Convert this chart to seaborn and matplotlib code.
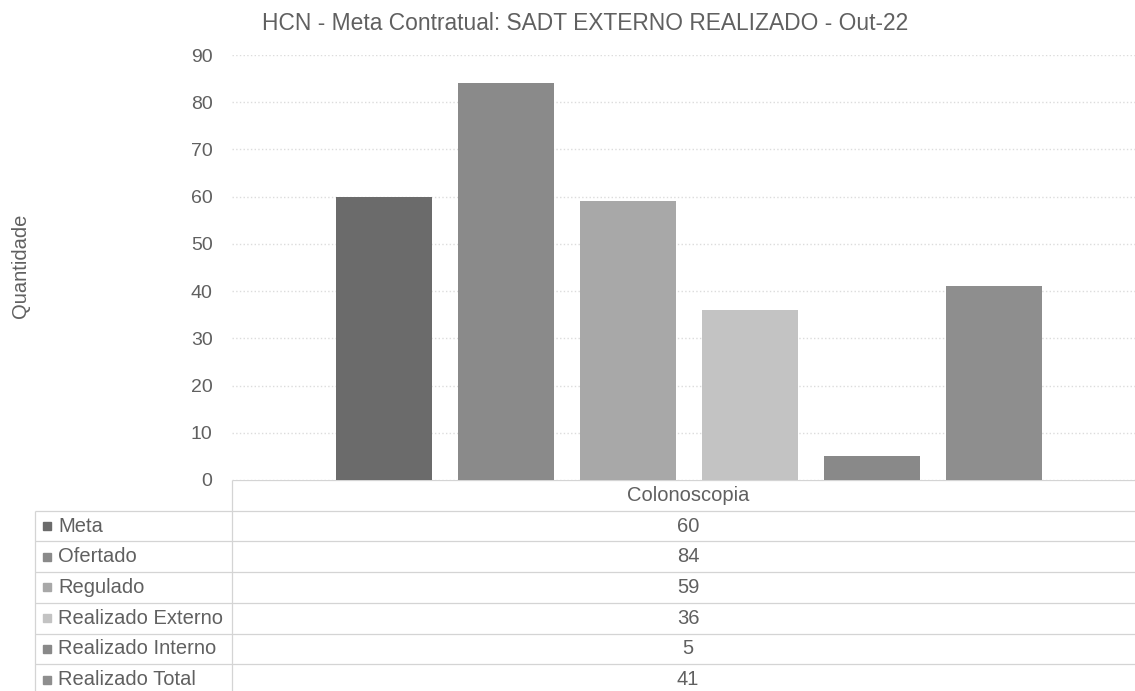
import pandas as pd
import matplotlib.pyplot as plt
import seaborn as sns

# dados do grafico
exame = 'Colonoscopia'
series = ['Meta', 'Ofertado', 'Regulado', 'Realizado Externo',
          'Realizado Interno', 'Realizado Total']
valores = [60, 84, 59, 36, 5, 41]
cores = ['#6b6b6b', '#8a8a8a', '#a8a8a8', '#c3c3c3', '#898989', '#8e8e8e']
yticks = [0, 10, 20, 30, 40, 50, 60, 70, 80, 90]

titulo = 'HCN - Meta Contratual: SADT EXTERNO REALIZADO - Out-22'

sns.set_theme(style='white')
plt.rcParams['font.family'] = ['Liberation Sans', 'DejaVu Sans']

W, H = 1135, 691
fig = plt.figure(figsize=(W / 100, H / 100), dpi=100)

texto = '#606060'
linha = '#d4d4d4'

# area do grafico (em pixels da figura)
x0, x1 = 232, 1146
y_top, y_zero = 55, 480
ax = fig.add_axes([x0 / W, (H - y_zero) / H, (x1 - x0) / W, (y_zero - y_top) / H])

df = pd.DataFrame({'exame': [exame] * len(series), 'serie': series, 'valor': valores})
sns.barplot(data=df, x='exame', y='valor', hue='serie', hue_order=series,
            palette=dict(zip(series, cores)), width=0.8, gap=0.21,
            linewidth=0, legend=False, ax=ax)

ax.set_ylim(0, 90)
ax.set_xlim(-0.5, 0.5)
ax.set_yticks(yticks)
ax.set_yticklabels([str(v) for v in yticks], color=texto, fontsize=14)
ax.tick_params(axis='y', length=0, pad=14)
ax.set_xticks([])
ax.set_xlabel('')
ax.set_ylabel('')
ax.yaxis.grid(True, color='#dcdcdc', linestyle=':', linewidth=1.0)
ax.set_axisbelow(True)
for s in ax.spines.values():
    s.set_visible(False)

fig.text(585 / W, 1 - 24 / H, titulo, ha='center', va='center',
         fontsize=16.4, color=texto)
fig.text(21 / W, 1 - 266 / H, 'Quantidade', rotation=90, ha='center',
         va='center', fontsize=14.5, color=texto)

# tabela de dados abaixo do grafico
tb = fig.add_axes([0, 0, 1, 1], zorder=-1)
tb.set_xlim(0, W)
tb.set_ylim(H, 0)
tb.axis('off')

row_h = 30.7
top = 480
leg_x, col_x, right = 35, 232, 1135
centro = 688

tb.hlines(top, col_x, right, color=linha, linewidth=0.9)
tb.text(centro, top + row_h / 2, exame, ha='center', va='center',
        fontsize=14.5, color=texto)
for i, (nome, val, cor) in enumerate(zip(series, valores, cores)):
    y = top + row_h * (i + 1)
    tb.hlines(y, leg_x, right, color=linha, linewidth=0.9)
    yc = y + row_h / 2
    tb.plot(47, yc, marker='s', markersize=5.5, color=cor, linestyle='none')
    tb.text(58, yc, nome, ha='left', va='center', fontsize=14.5, color=texto)
    tb.text(centro, yc, str(val), ha='center', va='center', fontsize=14.5, color=texto)
tb.hlines(top + row_h * (len(series) + 1), leg_x, right, color=linha, linewidth=0.9)
tb.vlines(leg_x, top + row_h, H, color=linha, linewidth=0.9)
tb.vlines(col_x, top, H, color=linha, linewidth=0.9)

fig.savefig('out.png', dpi=100)
plt.close(fig)
